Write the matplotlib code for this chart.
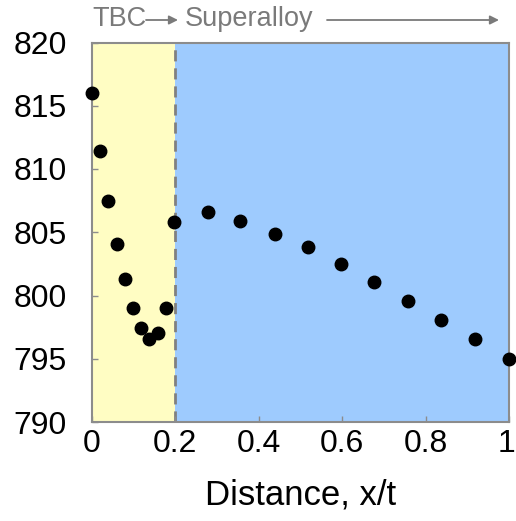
import matplotlib
matplotlib.use("Agg")
import matplotlib.pyplot as plt
import matplotlib.transforms as mtransforms
from matplotlib.patches import FancyArrowPatch

plt.rcParams['font.family'] = ['Liberation Sans', 'DejaVu Sans']

x_vals = [0.0, 0.019, 0.038, 0.060, 0.079, 0.098, 0.117, 0.136, 0.159, 0.178, 0.197,
          0.277, 0.356, 0.438, 0.518, 0.597, 0.677, 0.757, 0.838, 0.918, 1.0]
y_vals = [816.0, 811.4, 807.5, 804.1, 801.3, 799.0, 797.45, 796.6, 797.0, 799.0, 805.8,
          806.6, 805.9, 804.9, 803.8, 802.5, 801.1, 799.6, 798.1, 796.6, 795.0]
boundary = 0.2
x_ticks = [0, 0.2, 0.4, 0.6, 0.8, 1]
x_ticklabels = ['0', '0.2', '0.4', '0.6', '0.8', '1']
y_ticks = [790, 795, 800, 805, 810, 815, 820]

W, H = 516, 521
fig = plt.figure(figsize=(W/100, H/100), dpi=100)
ax = fig.add_axes([92/W, 1-422/H, 417/W, (422-42.5)/H])
ax.set_xlim(0, 1)
ax.set_ylim(790, 820)
ax.axvspan(0, boundary, color='#FFFDC3', zorder=0, lw=0)
ax.axvspan(boundary, 1, color='#9ECBFE', zorder=0, lw=0)
ax.axvline(boundary, color='#808080', ls=(0, (4, 2.5)), lw=2, zorder=1)
ax.plot(x_vals, y_vals, 'o', color='black', ms=9, clip_on=False, zorder=3)

for s in ax.spines.values():
    s.set_color('#8C8C8C')
    s.set_linewidth(1.5)
ax.set_xticks(x_ticks)
ax.set_xticklabels(x_ticklabels)
ax.set_yticks(y_ticks)
ax.tick_params(direction='in', length=4, width=1, color='#8C8C8C', labelsize=23)
ax.tick_params(axis='y', pad=18)
ax.tick_params(axis='x', pad=5)
ax.set_xlabel('Distance, x/t', fontsize=25, labelpad=14)

last = ax.get_xticklabels()[-1]
last.set_transform(last.get_transform() + mtransforms.ScaledTranslation(-3/100, 0, fig.dpi_scale_trans))

gray = '#7A7A7A'
ty = 1 - 19/H
ay = 1 - 20/H
fig.text(92/W, ty, 'TBC', color=gray, fontsize=19.5, ha='left', va='center')
fig.text(185/W, ty, 'Superalloy', color=gray, fontsize=19.5, ha='left', va='center')
for x0, x1 in [(146, 178), (327, 499)]:
    fig.add_artist(FancyArrowPatch(
        (x0/W, ay), (x1/W, ay), transform=fig.transFigure,
        arrowstyle='-|>', color=gray, lw=1.3, mutation_scale=13, shrinkA=0, shrinkB=0))

fig.savefig('out.png', dpi=100)
